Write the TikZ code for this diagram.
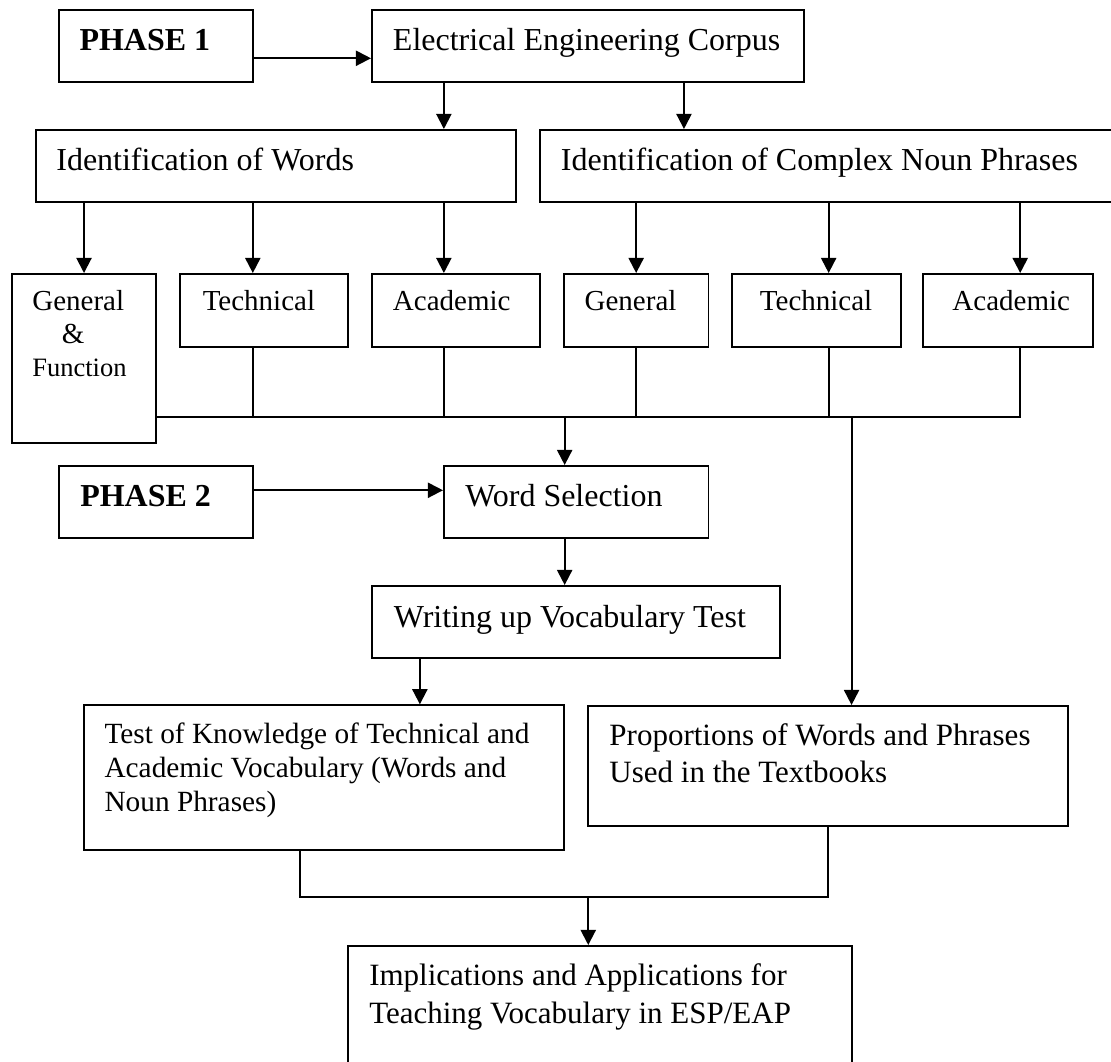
\documentclass[tikz,border=0pt]{standalone}
\usepackage{fontspec}
\setmainfont{Liberation Serif}
\usetikzlibrary{arrows.meta}

\begin{document}
\begin{tikzpicture}
	[stage/.style ={rectangle, draw=black, line width=0.55pt, anchor=north west, inner ysep=0pt, align=flush left, font=\fontsize{9.1pt}{10.5pt}\selectfont},
	oneline/.style ={text height=0.41cm, text depth=0.31cm},
	kind/.style ={stage, font=\fontsize{8.25pt}{9.39pt}\selectfont, text height=0.37cm, text depth=0.357cm},
	line/.style ={draw, line width=0.55pt, -{Triangle[length=4.3pt,width=4.3pt]}},
	wire/.style ={draw, line width=0.55pt},
	]
	\useasboundingbox (0,0) rectangle (11.11,-10.61);

	\draw (0.58,-0.09) node[stage, oneline, inner xsep=0.206cm, text width=1.528cm] (phaseA) {\textbf{PHASE 1}};
	\draw (3.71,-0.09) node[stage, oneline, inner xsep=0.21cm, text width=3.9cm] (corpus) {\mbox{Electrical Engineering Corpus}};
	\draw (0.35,-1.29) node[stage, oneline, inner xsep=0.204cm, text width=4.392cm] (words) {Identification of Words};
	\draw (5.39,-1.29) node[stage, oneline, inner xsep=0.21cm, text width=5.44cm] (phrases) {\mbox{Identification of Complex Noun Phrases}};

	\draw (0.107,-2.73) node[kind, inner xsep=0.207cm, text width=1.033cm, text depth=1.32cm] (wgen) {General\\\hspace*{0.296cm}\&\\{\fontsize{7.54pt}{9.39pt}\selectfont Function}};
	\draw (1.786,-2.73) node[kind, inner xsep=0.232cm, text width=1.221cm] (wtech) {Technical};
	\draw (3.707,-2.73) node[kind, inner xsep=0.213cm, text width=1.26cm] (wacad) {Academic};
	\draw (5.629,-2.73) node[kind, inner xsep=0.208cm, text width=1.03cm] (pgen) {General};
	\draw (7.308,-2.73) node[kind, inner xsep=0.282cm, text width=1.126cm] (ptech) {Technical};
	\draw (9.224,-2.73) node[kind, inner xsep=0.291cm, text width=1.111cm] (pacad) {Academic};

	\draw (0.58,-4.65) node[stage, oneline, inner xsep=0.213cm, text width=1.514cm] (phaseB) {\textbf{PHASE 2}};
	\draw (4.43,-4.65) node[stage, oneline, inner xsep=0.213cm, text width=2.219cm] (select) {Word Selection};
	\draw (3.707,-5.85) node[stage, inner xsep=0.222cm, text width=3.642cm, text height=0.417cm, text depth=0.306cm] (writing) {\mbox{Writing up Vocabulary Test}};
	\draw (0.829,-7.043) node[stage, inner xsep=0.207cm, text width=4.387cm, text height=0.384cm, text depth=1.066cm, font=\fontsize{8.34pt}{9.67pt}\selectfont] (knowledge) {Test of Knowledge of Technical and\\Academic Vocabulary (Words and\\Noun Phrases)};
	\draw (5.866,-7.05) node[stage, inner xsep=0.219cm, text width=4.366cm, text height=0.4cm, text depth=0.8cm, font=\fontsize{8.82pt}{10.53pt}\selectfont] (usage) {Proportions of Words and Phrases\\Used in the Textbooks};
	\draw (3.467,-9.45) node[stage, inner xsep=0.216cm, text width=4.61cm, text height=0.4cm, text depth=1.3cm, font=\fontsize{8.82pt}{10.81pt}\selectfont] (implic) {Implications and Applications for\\Teaching Vocabulary in ESP/EAP};

	\coordinate (bus) at (0,-4.173);
	\coordinate (join) at (0,-8.973);

	\draw[line] ([yshift=-0.123cm]phaseA.east) -- ([yshift=-0.123cm]corpus.west);
	\draw[line] ([xshift=-1.441cm]corpus.south) -- ([xshift=-1.441cm]corpus.south |- words.north);
	\draw[line] ([xshift=0.96cm]corpus.south) -- ([xshift=0.96cm]corpus.south |- phrases.north);

	\draw[line] (wgen.north |- words.south) -- (wgen.north);
	\draw[line] ([xshift=-0.11cm]wtech.north |- words.south) -- ([xshift=-0.11cm]wtech.north);
	\draw[line] ([xshift=-0.121cm]wacad.north |- words.south) -- ([xshift=-0.121cm]wacad.north);
	\draw[line] (pgen.north |- phrases.south) -- (pgen.north);
	\draw[line] ([xshift=0.124cm]ptech.north |- phrases.south) -- ([xshift=0.124cm]ptech.north);
	\draw[line] ([xshift=0.122cm]pacad.north |- phrases.south) -- ([xshift=0.122cm]pacad.north);

	\draw[wire] (wgen.east |- bus) -| ([xshift=0.122cm]pacad.south);
	\draw[wire] ([xshift=-0.11cm]wtech.south) -- ([xshift=-0.11cm]wtech.south |- bus);
	\draw[wire] ([xshift=-0.121cm]wacad.south) -- ([xshift=-0.121cm]wacad.south |- bus);
	\draw[wire] (pgen.south) -- (pgen.south |- bus);
	\draw[wire] ([xshift=0.124cm]ptech.south) -- ([xshift=0.124cm]ptech.south |- bus);

	\draw[line] ([xshift=-0.1155cm]select.north |- bus) -- ([xshift=-0.1155cm]select.north);
	\draw[line] ([xshift=0.238cm]usage.north |- bus) -- ([xshift=0.238cm]usage.north);
	\draw[line] ([yshift=0.117cm]phaseB.east) -- ([yshift=0.117cm]select.west);
	\draw[line] ([xshift=-0.1155cm]select.south) -- ([xshift=-0.1155cm]select.south |- writing.north);
	\draw[line] ([xshift=-1.561cm]writing.south) -- ([xshift=-1.561cm]writing.south |- knowledge.north);

	\draw[wire] ([xshift=-0.2365cm]knowledge.south) |- (usage.south |- join) -- (usage.south);
	\draw[line] ([xshift=-0.115cm]implic.north |- join) -- ([xshift=-0.115cm]implic.north);
\end{tikzpicture}
\end{document}
